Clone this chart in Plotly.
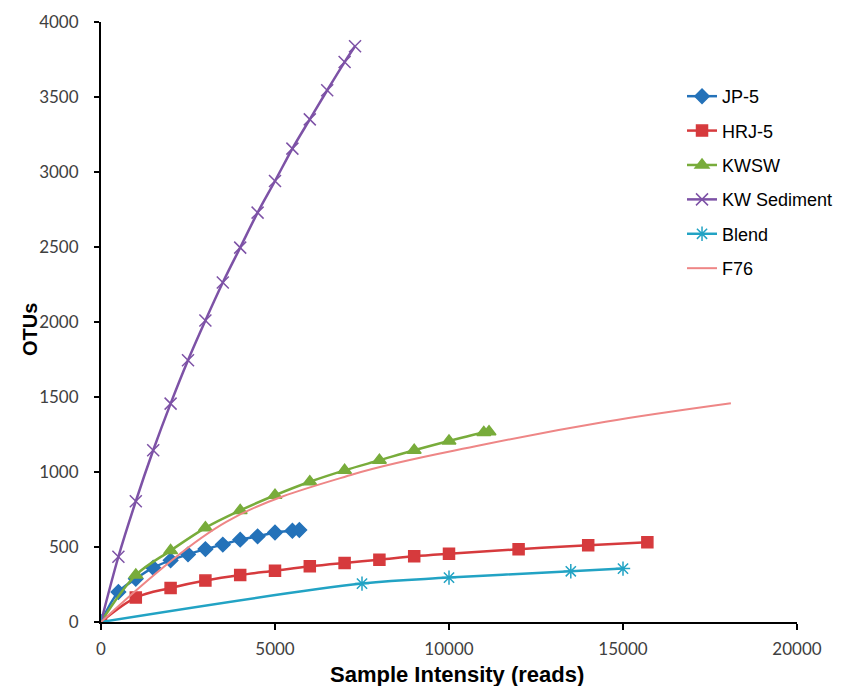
import plotly.graph_objects as go

# ---- data ----
jp5_x = [0, 500, 1000, 1500, 2000, 2500, 3000, 3500, 4000, 4500, 5000, 5500, 5700]
jp5_y = [0, 200, 288, 362, 411, 451, 486, 516, 549, 571, 597, 608, 613]

hrj5_x = [0, 1000, 2000, 3000, 4000, 5000, 6000, 7000, 8000, 9000, 10000, 12000, 14000, 15700]
hrj5_y = [0, 163, 227, 276, 313, 342, 371, 394, 415, 438, 455, 485, 512, 532]

kwsw_x = [0, 1000, 2000, 3000, 4000, 5000, 6000, 7000, 8000, 9000, 10000, 11000, 11150]
kwsw_y = [0, 313, 476, 628, 744, 845, 935, 1011, 1078, 1145, 1207, 1263, 1268]

kws_x = [0, 500, 1000, 1500, 2000, 2500, 3000, 3500, 4000, 4500, 5000, 5500, 6000, 6500, 7000, 7300]
kws_y = [0, 435, 805, 1145, 1456, 1745, 2010, 2263, 2496, 2729, 2940, 3156, 3351, 3545, 3733, 3838]

blend_x = [0, 7500, 10000, 13500, 15000]
blend_y = [0, 256, 296, 338, 356]

f76_x = [0, 3600, 7250, 10900, 14500, 18100]
f76_y = [0, 668, 985, 1178, 1335, 1458]

x_ticks = [0, 5000, 10000, 15000, 20000]
y_ticks = [0, 500, 1000, 1500, 2000, 2500, 3000, 3500, 4000]

x_title = "Sample Intensity (reads)"
y_title = "OTUs"

series = [
    ("JP-5", jp5_x, jp5_y, "#2472B9", "diamond", 11, 2.5),
    ("HRJ-5", hrj5_x, hrj5_y, "#D63A3D", "square", 11, 2.5),
    ("KWSW", kwsw_x, kwsw_y, "#78AC3B", "triangle-up", 12, 2.5),
    ("KW Sediment", kws_x, kws_y, "#7D52A6", "x-thin-open", 12, 2.5),
    ("Blend", blend_x, blend_y, "#22A3C4", "asterisk-open", 12, 2.5),
    ("F76", f76_x, f76_y, "#EE8686", None, 0, 2),
]

fig = go.Figure()
for name, xs, ys, col, sym, size, lw in series:
    if sym is None:
        fig.add_trace(go.Scatter(x=xs, y=ys, name=name, mode="lines",
                                 line=dict(color=col, width=lw, shape="spline", smoothing=1),
                                 legendgroup=name))
    else:
        fig.add_trace(go.Scatter(x=xs, y=ys, name=name, mode="lines+markers",
                                 line=dict(color=col, width=lw, shape="spline", smoothing=1),
                                 marker=dict(symbol=sym, size=size, color=col,
                                             line=dict(color=col, width=1.5)),
                                 legendgroup=name))

tick_font = dict(family="Lato, Open Sans, sans-serif", size=17, color="#404040")
title_font = dict(family="Liberation Sans, Arial, sans-serif", size=20, color="#000000")

# page body has an 8px margin, so the figure is sized to fit the 845x686 window
fig.update_layout(
    width=837, height=678,
    margin=dict(l=93, r=48, t=14, b=64, autoexpand=False),
    paper_bgcolor="white", plot_bgcolor="white",
    showlegend=True,
    legend=dict(x=0.8348, y=0.9067, xanchor="left", yanchor="top",
                font=dict(family="Liberation Sans, Arial, sans-serif", size=18, color="#000000"),
                itemwidth=30, tracegroupgap=8, traceorder="grouped",
                bgcolor="rgba(0,0,0,0)"),
    xaxis=dict(range=[0, 20000], tickvals=x_ticks, ticktext=[str(v) for v in x_ticks],
               showgrid=False, zeroline=False, showline=True, linecolor="#000000", linewidth=2,
               ticks="outside", ticklen=6, tickwidth=2, tickcolor="#000000",
               tickfont=tick_font, automargin=False, ticklabelstandoff=5),
    yaxis=dict(range=[0, 4000], tickvals=y_ticks, ticktext=[str(v) for v in y_ticks],
               showgrid=False, zeroline=False, showline=True, linecolor="#000000", linewidth=2,
               ticks="outside", ticklen=5, tickwidth=2, tickcolor="#000000",
               tickfont=tick_font, automargin=False, ticklabelstandoff=12),
    annotations=[
        dict(text="<b>" + x_title + "</b>", xref="paper", yref="paper",
             x=0.5115, y=0, yshift=-52, xanchor="center", yanchor="middle",
             showarrow=False, font=dict(family="Liberation Sans, Arial, sans-serif", size=22, color="#000000")),
        dict(text="<b>" + y_title + "</b>", xref="paper", yref="paper",
             x=0, xshift=-71, y=0.5, yshift=-8, xanchor="center", yanchor="middle", textangle=-90,
             showarrow=False, font=title_font),
    ],
)

fig.write_html("out.html")
